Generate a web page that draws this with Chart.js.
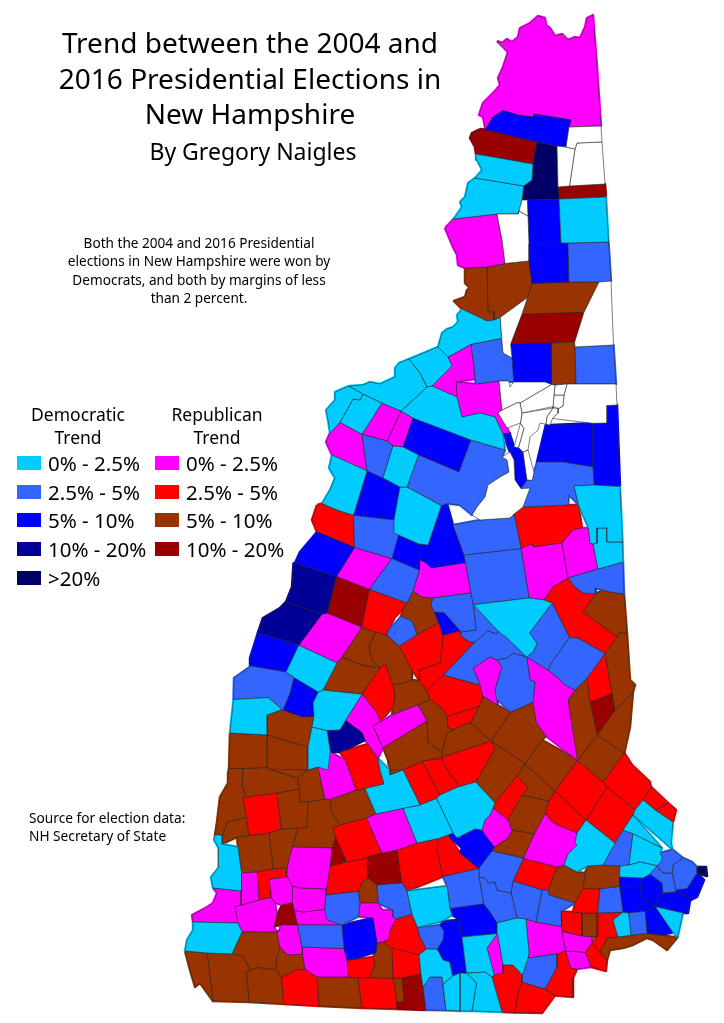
<!DOCTYPE html>
<html>
<head>
<meta charset="utf-8">
<title>Trend between the 2004 and 2016 Presidential Elections in New Hampshire</title>
<script src="https://cdn.jsdelivr.net/npm/chart.js@4"></script>
<style>
body { margin: 0; background: #fff; }
#wrap { position: relative; width: 724px; height: 1023px; overflow: hidden; font-family: "Noto Sans", sans-serif; color: #000; }
#map { position: absolute; left: 0; top: 0; }
.txt { position: absolute; white-space: nowrap; line-height: 1; transform: translateY(-50%); }
.mid { transform: translate(-50%, -50%); }
.box { position: absolute; width: 24px; height: 14px; }
</style>
</head>
<body>
<div id="wrap"><canvas id="map" width="724" height="1023"></canvas></div>
<script>
// town outlines, x,y pairs, one list per legend class
const dem_0 = [
[476,154,533,164,532,180,524,186,475,178,482,170,477,160],
[475,178,523,187,519,211,454,219,462,207,460,202,465,197,468,183],
[559,199,606,197,609,242,561,243],
[462,309,487,321,500,317,502,338,471,344,448,357,438,347,442,333,447,329,453,327,458,322,457,315],
[409,359,438,347,452,366,427,387,420,373],
[349,386,363,385,370,382,380,384,395,377,395,368,399,363,409,359,427,387,401,411,363,394],
[427,387,457,397,462,417,480,413,495,417,505,450,471,440,413,418,401,411],
[349,386,363,394,360,400,353,399,340,422,330,433,328,420,326,410,335,400,335,392],
[353,399,360,400,363,394,382,403,362,433,340,422],
[393,446,419,455,407,487,383,478],
[332,455,367,471,353,515,322,503,330,490,335,478,329,468],
[400,487,442,506,428,545,394,533],
[574,486,620,486,622,542,607,542,607,528,597,528,597,543,590,543,587,528],
[590,543,597,543,597,528,607,528,607,542,623,542,623,562,598,569,593,543],
[473,605,529,598,552,603,529,633,537,642,533,652,527,657],
[299,646,337,663,318,693,286,672],
[318,690,360,695,340,730,312,727,313,703],
[232,700,268,698,277,705,280,710,267,715,267,733,232,733],
[312,727,327,729,329,752,328,770,308,770],
[365,788,384,784,377,760,390,775,403,770,420,805,403,808,376,815],
[403,808,436,799,453,833,417,843],
[437,798,457,787,475,782,493,803,490,815,485,820,482,830,484,833,475,828,457,838,453,833],
[409,891,447,886,452,915,418,927],
[215,835,222,835,222,845,238,847,242,891,213,888,211,877,219,867,218,857,219,848,214,840],
[193,922,238,923,243,932,232,954,185,951,187,940,193,930],
[418,955,436,950,443,960,450,963,453,977,443,983,442,977,430,977,423,987],
[443,983,453,977,460,973,460,1011,447,1011],
[443,987,452,975,466,973,477,983,472,1011,445,1010],
[467,975,485,972,492,977,495,975,502,1012,472,1011,476,983],
[462,937,497,932,487,948,492,977,485,972,467,973],
[497,923,526,918,529,953,523,973,513,965,503,965,498,935],
[613,920,628,913,630,934,617,937],
[653,908,683,913,678,937,673,932],
[620,866,640,862,657,866,650,874,643,878,620,877],
[643,800,673,822,671,843,672,850,633,815],
[633,815,662,848,633,834,624,828],
[633,835,662,848,661,862,657,865,640,862,629,865],
[586,822,615,843,603,865,587,866,577,872,564,863,568,855,577,845,575,843]
];
const dem_25 = [
[568,243,608,242,611,281,569,282],
[575,347,614,345,616,384,576,384],
[471,344,501,339,503,353,512,358,513,382,510,382,508,381,476,384,474,367],
[471,440,505,450,502,457,507,460,509,472,500,477,488,485,485,497,477,507,472,515,460,505,447,502,442,506,407,487,418,455,459,472],
[362,437,393,446,383,478,367,470],
[537,462,563,462,593,467,594,485,574,486,577,505,569,495,568,505,514,506,523,490,532,480,534,472],
[453,525,514,514,520,548,464,555],
[464,555,520,548,529,598,473,604],
[568,578,598,569,623,562,624,593,610,592,603,590,597,588,593,595,583,593,575,587,572,583],
[433,598,472,593,476,630,460,632,445,613,435,612,431,605],
[401,617,412,621,417,635,398,646,387,637,388,631],
[354,516,402,523,392,558,355,548],
[392,559,420,569,407,603,370,589],
[250,667,293,677,290,693,283,710,277,705,268,697,235,699,234,678],
[443,675,488,631,497,634,498,631,507,638,527,657,513,653,507,658,497,660,490,657,473,668,480,685],
[460,632,476,630,474,605,498,631,488,631,470,642,462,637],
[497,660,507,658,513,653,526,657,530,680,535,682,533,702,512,712,498,700,497,705,495,690,502,667],
[530,633,552,603,569,637,552,662,548,670,527,657,537,645],
[548,670,570,637,578,638,605,653,575,690,565,685,557,677],
[377,885,402,883,412,915,395,917,393,910,379,903],
[443,876,478,871,483,903,450,908],
[417,928,443,922,445,930,443,940,436,950,425,948],
[325,895,358,891,360,915,342,923,327,920,324,908],
[298,927,342,927,344,948,302,947],
[423,987,430,977,442,977,446,1010,426,1010],
[479,868,492,852,523,858,514,880,511,893,497,890,495,882,488,883,485,878,479,877],
[479,877,485,878,488,883,495,882,497,890,511,893,517,918,497,923,490,912,484,904],
[511,883,542,890,536,922,517,918],
[542,890,575,903,561,912,562,927,536,922],
[600,889,620,888,623,912,599,913],
[629,913,645,912,647,934,630,935],
[526,958,557,954,557,967,545,989,522,982],
[660,853,673,849,683,858,673,865,672,873,663,873,657,866,662,857],
[650,874,657,866,663,873,672,873,676,892,663,893,662,883],
[673,865,683,858,692,862,697,867,697,873,687,888,676,889],
[622,832,633,832,629,865,603,865]
];
const dem_5 = [
[486,131,493,117,503,111,518,115,533,117,534,114,571,120,566,147,537,142],
[528,200,559,199,561,243,529,244],
[529,243,568,243,569,282,532,283],
[512,344,551,343,552,384,514,382],
[413,418,471,440,459,472,403,447],
[367,472,400,487,394,520,353,515],
[502,434,510,433,514,447,520,448,527,480,533,481,530,488,520,488,515,480,514,460],
[546,422,593,424,593,467,563,462,537,462],
[593,423,607,423,607,405,617,405,620,487,594,485],
[440,505,447,505,464,562,431,568,425,562,420,560,419,545,428,545],
[394,533,419,543,420,569,392,559],
[317,532,354,547,336,576,295,562,300,552],
[433,612,443,612,460,628,461,632,443,635,439,623],
[258,633,298,645,286,672,252,665,250,658],
[295,678,319,693,313,703,316,715,303,717,283,710,290,693],
[448,835,457,838,475,830,483,833,493,847,479,868,460,853,462,848],
[450,909,484,904,490,912,497,932,462,937,460,920],
[443,920,460,920,466,972,452,975,449,960,440,950,440,925],
[437,947,443,932,450,928,460,927,460,973,450,963,443,960],
[342,923,373,918,376,952,347,960],
[645,910,653,908,673,933,647,933],
[619,877,643,878,640,888,619,885],
[619,885,640,888,642,897,657,907,645,912,623,912],
[643,878,650,874,662,883,663,892,657,905,642,897,640,888],
[697,873,704,880,697,897,690,900,688,897,676,893,676,890,687,889],
[663,894,677,893,690,901,688,913,657,906]
];
const dem_10 = [
[292,565,295,563,336,576,327,613,286,602,292,587],
[286,602,327,613,322,614,299,645,258,632,263,618,280,608],
[345,721,362,732,365,740,329,752,327,732]
];
const dem_20 = [
[537,142,557,146,559,199,527,200,522,200,524,185,532,180,533,164],
[697,867,706,867,707,876,697,873]
];
const rep_0 = [
[497,41,508,52,503,67,498,78,500,85,493,93,483,103,479,115,483,117,485,128,493,117,503,110,518,115,533,117,534,114,571,120,569,127,601,126,597,67,593,15,587,18,585,27,580,38,575,37,568,40,562,34,555,36,550,28,546,25,545,18,538,16,530,23,520,28,518,37,512,42,507,39,502,43],
[445,228,453,219,497,214,502,240,505,264,487,267,465,268,458,265,457,255,453,247,450,240],
[448,357,471,345,475,379,456,382,457,397,432,386,452,366],
[456,382,476,384,499,381,502,410,498,413,509,433,504,434,495,417,480,413,462,417],
[382,403,401,411,387,441,362,433],
[401,411,413,418,403,447,387,441],
[340,423,362,434,367,470,332,455,326,442],
[562,543,573,530,590,528,590,543,593,545,598,569,568,578],
[522,549,533,547,562,543,568,578,552,587,543,600,529,598],
[420,560,425,562,431,568,467,563,470,593,433,598,422,597,413,591,418,573],
[337,577,355,548,392,558,369,589],
[322,614,361,627,337,663,299,645],
[473,668,490,657,502,667,495,690,498,705,482,695,480,685],
[526,657,548,670,575,690,568,700,578,760,545,737,536,723,533,702,535,682,530,680],
[373,726,418,705,427,720,383,748],
[346,720,363,694,380,722,373,726,383,747,379,757,362,733],
[318,767,323,760,333,752,345,760,356,790,325,799],
[368,818,403,809,417,843,382,853],
[493,808,508,820,512,830,508,838,495,847,485,835,482,830,485,820,490,815],
[545,814,550,820,577,833,577,845,568,853,564,867,525,858,535,833],
[292,847,332,848,326,889,300,888,293,886,287,877,287,868],
[292,886,300,888,327,889,325,910,303,912,293,911],
[297,910,325,910,341,918,341,927,298,927],
[269,879,293,877,293,902,282,907,275,903,271,892],
[241,873,257,872,259,900,241,905],
[235,906,270,898,275,903,277,915,273,926,280,930,277,932,240,931],
[213,888,241,891,241,905,235,907,238,923,193,922,192,915,207,907,213,903,217,893],
[277,932,280,925,297,923,302,947,302,954,288,955,280,947],
[302,947,344,949,348,977,317,977,305,970],
[357,918,360,903,378,903,382,910,393,910,397,920,390,930,388,938,383,942,377,943,373,918],
[498,935,503,973,493,975,487,948],
[526,920,561,926,565,950,530,958],
[562,932,582,937,592,937,585,952,567,950],
[565,950,585,952,592,967,577,968,571,968]
];
const rep_25 = [
[515,506,580,505,582,528,573,530,562,543,533,547,532,544,522,549],
[545,600,553,587,568,578,575,587,583,593,593,588,597,593,583,612,617,637,605,653,577,638,569,638,552,603],
[587,678,605,655,612,693,590,702],
[603,782,625,753,632,765,650,782,651,787,635,810,607,787],
[651,787,668,803,655,810,643,800],
[655,810,668,803,676,810,673,822],
[577,762,603,782,607,787,586,819,555,792],
[607,787,635,810,615,843,586,819],
[442,758,492,741,495,748,475,782,457,787,448,773,443,758],
[317,505,322,504,337,510,354,515,354,547,317,532,312,520],
[369,590,407,603,403,610,395,617,387,634,363,627],
[363,694,385,664,395,695,393,707,380,722,377,713],
[402,646,417,635,439,623,442,647,440,663,420,670,420,680,412,670],
[443,635,460,632,475,642,443,675,427,690,419,680,418,670,440,663],
[426,691,445,675,480,685,482,697,480,706,447,716,442,708,430,699],
[447,717,478,706,472,723,458,727,453,730,448,727],
[517,777,528,788,508,820,493,808],
[555,793,586,820,577,833,557,825,550,820,548,815,545,814],
[340,752,368,744,380,770,384,784,356,790],
[403,770,422,762,440,795,420,805],
[423,760,443,761,450,773,457,782,460,787,440,795],
[440,837,448,835,460,853,479,867,443,877,437,850],
[397,850,437,840,443,877,405,891],
[333,828,365,818,382,853,347,862,337,837],
[330,866,367,858,368,857,367,867,368,878,362,882,358,892,327,895],
[257,872,287,868,287,877,269,880,272,897,259,900],
[243,798,277,793,281,829,249,834],
[282,978,295,970,305,969,317,977,319,1006,284,1004],
[358,978,393,979,397,1009,362,1008],
[347,961,373,957,375,963,369,978,348,977],
[388,938,397,920,393,917,412,913,420,937,428,950,420,955,392,948,383,942],
[392,948,418,946,421,973,393,978],
[495,975,503,965,513,965,522,977,515,1012,502,1012],
[522,982,545,989,555,996,542,1013,515,1013,518,993],
[557,954,565,953,571,968,577,970,573,978,573,997,555,995,545,989,557,967],
[523,859,557,867,548,890,514,880],
[583,889,600,889,598,913,573,912],
[561,911,582,913,582,935,562,931],
[597,913,623,913,613,920,617,937,607,938,600,952,592,942,597,937],
[586,953,592,943,600,953,607,960,606,971,590,967]
];
const rep_5 = [
[465,268,487,267,488,312,494,312,494,320,487,321,462,309,454,301,465,297,467,290,470,288,465,283],
[487,267,529,261,532,283,528,297,500,317,494,320,494,312,488,312],
[532,284,599,282,584,313,522,314],
[551,343,574,342,576,384,552,384],
[583,612,597,593,603,590,610,592,624,595,627,633,620,632,617,637],
[605,653,620,632,627,634,630,680,635,685,633,692,615,710,610,683],
[568,700,587,678,590,702,597,735,578,761,573,757],
[597,735,633,692,630,727,623,753],
[577,760,598,735,625,753,603,782],
[413,591,422,597,433,598,431,605,435,612,439,623,417,634,412,621,401,616,403,608,407,603],
[267,715,280,709,283,710,312,717,308,747,268,736],
[267,736,308,747,308,770,267,767],
[228,733,267,735,267,767,228,770],
[342,657,360,628,375,632,370,647,372,660,380,668,362,665],
[375,632,387,634,398,646,412,680,403,683,393,685,385,663,380,668,372,660,368,647],
[342,657,380,668,362,694,323,690],
[393,685,412,680,420,682,430,699,392,715,395,697],
[383,748,427,722,428,742,442,752,440,757,423,763,390,770],
[418,705,430,700,442,708,448,727,453,730,458,727,447,733,442,752,428,742,427,720],
[447,733,468,723,490,741,443,757,440,757],
[472,723,480,706,485,697,510,712,490,741,468,723],
[510,712,533,703,537,723,547,735,525,763,492,741],
[542,740,577,760,555,790,525,764],
[525,764,555,790,549,801,522,795,517,775],
[492,741,525,764,497,803,477,782,495,750],
[522,795,549,801,535,833,507,828],
[512,830,534,835,523,858,492,850,495,847,508,838],
[330,800,365,789,376,813,340,825,332,813],
[388,760,420,760,422,762,390,775],
[362,882,368,878,377,885,378,903,360,903],
[185,951,207,953,213,1001,200,983,195,987,190,970],
[207,953,243,956,250,970,246,973,249,1002,213,1001],
[232,954,243,932,277,932,280,947,276,960,276,970,258,968,250,970,243,956],
[247,972,258,967,275,967,281,977,284,1004,249,1002],
[277,957,280,947,288,955,303,954,305,969,295,970,290,973,281,977,276,972],
[317,977,358,978,362,1008,319,1006],
[376,952,377,943,390,942,393,978,370,978,375,963],
[393,978,402,978,404,1002,397,1002],
[230,767,243,768,242,785,247,797,243,798,246,817,227,822,223,835,215,835,217,822,220,797,228,783,228,773],
[243,769,268,769,297,778,300,789,247,797,242,785],
[267,767,308,770,297,778,268,769],
[298,778,318,767,325,799,300,802],
[277,793,299,789,300,802,308,802,307,827,281,829],
[308,801,330,799,332,813,340,825,333,828,335,837,332,848,293,847,298,828,307,827],
[227,822,247,818,249,837,237,837,222,843,223,835],
[237,837,269,833,273,869,242,873],
[269,833,298,828,293,847,287,868,273,869],
[557,867,585,873,575,903,549,895],
[588,866,620,866,620,888,583,888],
[582,913,597,913,597,937,582,936],
[600,953,607,938,620,937,633,937,647,933,660,935,677,938,667,950,653,940,647,938,633,945,623,948,610,950,607,960]
];
const rep_10 = [
[480,129,537,142,533,164,476,154,475,147,470,138,472,133],
[558,187,605,184,606,197,559,199],
[522,314,584,312,575,342,510,344],
[337,577,369,589,363,627,327,613],
[590,702,612,694,615,711,597,735],
[368,856,397,850,402,883,377,885,368,878,367,867],
[335,837,347,862,330,866],
[282,903,292,903,293,910,297,923,275,927,277,915],
[402,978,421,975,426,1010,397,1009,397,1002,404,1002]
];
// towns with no 2004/2016 comparison, left white
const no_data = [
[569,127,601,126,602,142,577,143,575,149,566,147],
[557,146,575,149,569,186,558,187],
[577,143,602,142,605,184,570,186],
[522,200,527,200,528,216,518,214,519,211],
[497,214,518,214,528,216,529,244,529,261,505,263,502,240],
[501,318,527,298,522,314,510,344,512,358,503,353,502,338],
[599,282,611,281,613,345,575,347,575,342,584,312],
[499,381,508,381,510,387,514,382,545,382,551,385,518,402,502,410],
[498,413,518,402,520,423,507,428],
[518,402,551,385,555,385,553,408,522,413],
[555,385,567,384,564,395,554,395],
[554,395,564,395,563,406,553,406],
[567,384,616,384,617,405,607,406,607,423,593,423,553,420,559,410,563,406,564,395],
[553,406,558,407,558,413,552,417,550,425,546,426,547,417,553,408],
[522,413,553,408,547,417,546,425,540,423,538,430,530,437,528,450,523,452,518,448,525,430],
[517,403,520,403,523,427,518,447,514,447,521,423],
[523,452,528,450,534,472,532,480,527,480],
[502,457,510,452,514,460,515,480,520,488,530,488,523,507,510,518,480,520,472,515,477,507,485,497,488,485,500,477,509,472,507,460]
];

const classes = [no_data, dem_0, dem_25, dem_5, dem_10, dem_20, rep_0, rep_25, rep_5, rep_10];
const class_colors = ['#ffffff', '#00ccff', '#3366ff', '#0000ff', '#000099', '#000066', '#ff00ff', '#ff0000', '#993300', '#990000'];

const title_lines = ['Trend between the 2004 and', '2016 Presidential Elections in', 'New Hampshire'];
const byline = 'By Gregory Naigles';
const note_lines = ['Both the 2004 and 2016 Presidential', 'elections in New Hampshire were won by', 'Democrats, and both by margins of less', 'than 2 percent.'];
const source_lines = ['Source for election data:', 'NH Secretary of State'];
const dem_labels = ['0% - 2.5%', '2.5% - 5%', '5% - 10%', '10% - 20%', '>20%'];
const rep_labels = ['0% - 2.5%', '2.5% - 5%', '5% - 10%', '10% - 20%'];
const dem_colors = ['#00ccff', '#3366ff', '#0000ff', '#000099', '#000066'];
const rep_colors = ['#ff00ff', '#ff0000', '#993300', '#990000'];

// turn the flat lists into point lists
let towns = [];
classes.forEach((list, i) => {
    list.forEach(flat => {
        let pts = [];
        for (let k = 0; k < flat.length; k += 2) {
            pts.push({x: flat[k], y: flat[k + 1]});
        }
        towns.push({cls: i, pts: pts});
    });
});

// my readings of a shared corner differ by a few pixels from town to town,
// so pull near corners together and hang them on the neighbour's edge
function joinCorners(towns) {
    let groups = [];
    towns.forEach((t, ti) => {
        t.pts.forEach(p => {
            let best = null, bestD = 4.5;
            groups.forEach(g => {
                if (g.owners.has(ti)) return;
                let d = Math.hypot(g.cx - p.x, g.cy - p.y);
                if (d < bestD) { bestD = d; best = g; }
            });
            if (!best) {
                best = {pts: [], owners: new Set(), cx: p.x, cy: p.y};
                groups.push(best);
            }
            best.pts.push(p);
            best.owners.add(ti);
            best.cx = best.pts.reduce((s, q) => s + q.x, 0) / best.pts.length;
            best.cy = best.pts.reduce((s, q) => s + q.y, 0) / best.pts.length;
        });
    });
    groups.forEach(g => g.pts.forEach(p => { p.x = g.cx; p.y = g.cy; }));

    let corners = [];
    towns.forEach((t, ti) => t.pts.forEach(p => corners.push({x: p.x, y: p.y, ti: ti})));
    towns.forEach((t, ti) => {
        let out = [];
        t.pts.forEach((a, k) => {
            let b = t.pts[(k + 1) % t.pts.length];
            let dx = b.x - a.x, dy = b.y - a.y, len2 = dx * dx + dy * dy;
            out.push(a);
            if (len2 < 1) return;
            let extra = [];
            corners.forEach(c => {
                if (c.ti === ti) return;
                let u = ((c.x - a.x) * dx + (c.y - a.y) * dy) / len2;
                if (u <= 0.01 || u >= 0.99) return;
                let d = Math.hypot(a.x + u * dx - c.x, a.y + u * dy - c.y);
                let da = Math.hypot(c.x - a.x, c.y - a.y), db = Math.hypot(c.x - b.x, c.y - b.y);
                if (d < 3.5 && da > 1 && db > 1) extra.push({x: c.x, y: c.y, u: u});
            });
            extra.sort((m, n) => m.u - n.u);
            extra.forEach(e => out.push({x: e.x, y: e.y}));
        });
        t.pts = out;
    });
}
joinCorners(towns);

let datasets = [];
towns.forEach(t => {
    let pts = t.pts.concat([t.pts[0]]);
    // same colour stroke underneath closes what is left between neighbours
    if (t.cls > 0) {
        datasets.push({
            data: pts,
            showLine: true,
            fill: false,
            borderColor: class_colors[t.cls],
            borderWidth: 2.5,
            borderJoinStyle: 'round',
            pointRadius: 0,
            tension: 0,
            order: 3
        });
    }
    datasets.push({
        data: pts,
        showLine: true,
        fill: 'shape',
        backgroundColor: class_colors[t.cls],
        borderColor: '#2a2a2a',
        borderWidth: 0.6,
        pointRadius: 0,
        tension: 0,
        order: t.cls > 0 ? 2 : 1
    });
});

new Chart(document.getElementById('map'), {
    type: 'scatter',
    data: {datasets: datasets},
    options: {
        responsive: false,
        animation: false,
        layout: {padding: 0},
        plugins: {legend: {display: false}, tooltip: {enabled: false}},
        scales: {
            x: {type: 'linear', min: 0, max: 724, display: false},
            y: {type: 'linear', min: 0, max: 1023, reverse: true, display: false}
        }
    }
});

const wrap = document.getElementById('wrap');
function addText(str, x, y, size, centered) {
    let d = document.createElement('div');
    d.className = centered ? 'txt mid' : 'txt';
    d.textContent = str;
    d.style.left = x + 'px';
    d.style.top = y + 'px';
    d.style.fontSize = size + 'px';
    wrap.appendChild(d);
}
function addBox(color, x, y) {
    let d = document.createElement('div');
    d.className = 'box';
    d.style.left = x + 'px';
    d.style.top = y + 'px';
    d.style.background = color;
    wrap.appendChild(d);
}

title_lines.forEach((s, i) => addText(s, 250, [42, 78, 113][i], 28, true));
addText(byline, 253, 151, 23, true);
note_lines.forEach((s, i) => addText(s, 199, 243 + i * 18.3, 13.6, true));
source_lines.forEach((s, i) => addText(s, 29, 818 + i * 18, 13.7, false));

addText('Democratic', 78, 415, 17.5, true);
addText('Trend', 78, 438, 17.5, true);
addText('Republican', 217, 415, 17.5, true);
addText('Trend', 217, 438, 17.5, true);
dem_labels.forEach((s, i) => {
    addBox(dem_colors[i], 17, 456 + i * 28.7);
    addText(s, 48, 463 + i * 28.7, 20.5, false);
});
rep_labels.forEach((s, i) => {
    addBox(rep_colors[i], 155, 456 + i * 28.7);
    addText(s, 186, 463 + i * 28.7, 20.5, false);
});
</script>
</body>
</html>
